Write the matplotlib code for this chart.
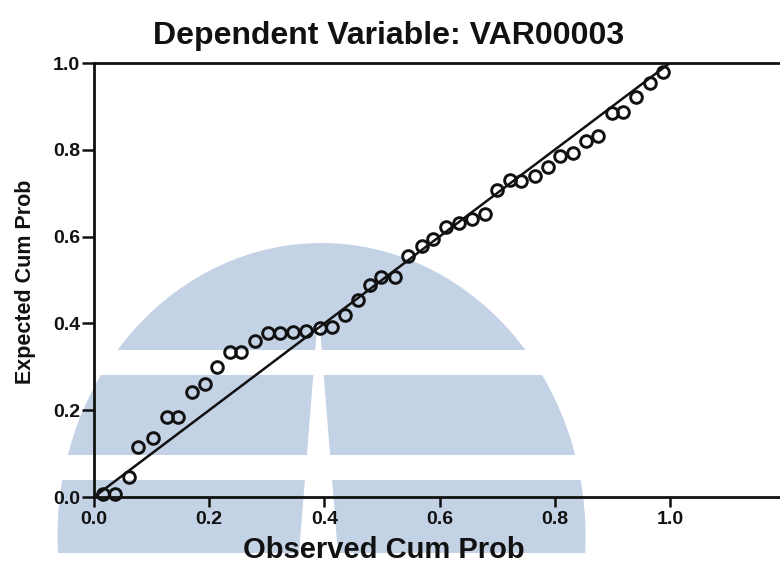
import matplotlib
matplotlib.use("Agg")
import matplotlib.pyplot as plt
from matplotlib.patches import Ellipse, Rectangle, Polygon

# ---- data ----
observed_cum_prob = [0.016, 0.036, 0.060, 0.077, 0.103, 0.126, 0.146, 0.170, 0.193, 0.213,
                     0.236, 0.256, 0.280, 0.303, 0.323, 0.346, 0.369, 0.392, 0.413, 0.436,
                     0.459, 0.479, 0.499, 0.523, 0.546, 0.569, 0.589, 0.612, 0.633, 0.656,
                     0.679, 0.699, 0.722, 0.742, 0.766, 0.789, 0.809, 0.832, 0.855, 0.876,
                     0.899, 0.919, 0.942, 0.965, 0.988]
expected_cum_prob = [0.006, 0.006, 0.047, 0.116, 0.135, 0.185, 0.185, 0.241, 0.260, 0.300,
                     0.335, 0.335, 0.359, 0.377, 0.379, 0.381, 0.383, 0.389, 0.392, 0.419,
                     0.455, 0.488, 0.508, 0.508, 0.556, 0.579, 0.594, 0.623, 0.632, 0.640,
                     0.652, 0.707, 0.730, 0.728, 0.740, 0.760, 0.786, 0.793, 0.821, 0.832,
                     0.884, 0.888, 0.922, 0.953, 0.980]
reference_line = [0.0, 1.0]
tick_values = [0.0, 0.2, 0.4, 0.6, 0.8, 1.0]
tick_labels = ["0.0", "0.2", "0.4", "0.6", "0.8", "1.0"]
title_text = "Dependent Variable: VAR00003"
xlabel_text = "Observed Cum Prob"
ylabel_text = "Expected Cum Prob"

W, H = 780, 565
plt.rcParams['font.family'] = ['Liberation Sans', 'DejaVu Sans']
ink = '#111111'
wm = '#c4d2e6'

fig = plt.figure(figsize=(W / 100, H / 100), dpi=100)
fig.patch.set_facecolor('white')

# ---- background watermark (pixel coordinates) ----
bg = fig.add_axes([0, 0, 1, 1])
bg.set_xlim(0, W)
bg.set_ylim(H, 0)
bg.axis('off')
for (y0, y1) in [(243, 350), (375, 455), (480, 553)]:
    clip = Rectangle((0, y0), W, y1 - y0, transform=bg.transData)
    e = Ellipse((321.5, 536), 528, 586, facecolor=wm, edgecolor='none')
    bg.add_patch(e)
    e.set_clip_path(clip)
bg.add_patch(Polygon([(317.5, 322), (319.5, 322), (338, 554), (299, 554)],
                     closed=True, facecolor='white', edgecolor='none'))

# ---- main axes ----
ax = fig.add_axes([94 / W, 68 / H, (785 - 94) / W, 434 / H])
ax.set_facecolor('none')
ax.set_xlim(0, 1.2)
ax.set_ylim(0, 1.0)

ax.plot(reference_line, reference_line, color=ink, lw=1.8, zorder=2)
ax.plot(observed_cum_prob, expected_cum_prob, linestyle='none', marker='o',
        markersize=8.4, markerfacecolor='none', markeredgecolor=ink,
        markeredgewidth=2.1, clip_on=False, zorder=3)

for s in ['left', 'top', 'bottom']:
    ax.spines[s].set_linewidth(2.0)
    ax.spines[s].set_color(ink)
ax.spines['right'].set_visible(False)

ax.set_xticks(tick_values)
ax.set_xticklabels(tick_labels)
ax.set_yticks(tick_values)
ax.set_yticklabels(tick_labels)
ax.tick_params(axis='x', direction='out', length=7, width=1.8, pad=3,
               colors=ink, labelsize=14)
ax.tick_params(axis='y', direction='out', length=9, width=1.8, pad=1,
               colors=ink, labelsize=14)
for lab in ax.get_xticklabels() + ax.get_yticklabels():
    lab.set_fontweight('bold')

fig.text(389 / W, 1 - 36 / H, title_text, ha='center', va='center',
         fontsize=23, fontweight='bold', color=ink)
fig.text(384 / W, 1 - 550 / H, xlabel_text, ha='center', va='center',
         fontsize=21, fontweight='bold', color=ink)
fig.text(26 / W, 1 - 282 / H, ylabel_text, ha='center', va='center',
         rotation=90, fontsize=15.5, fontweight='bold', color=ink)

fig.savefig('out.png', dpi=100)
